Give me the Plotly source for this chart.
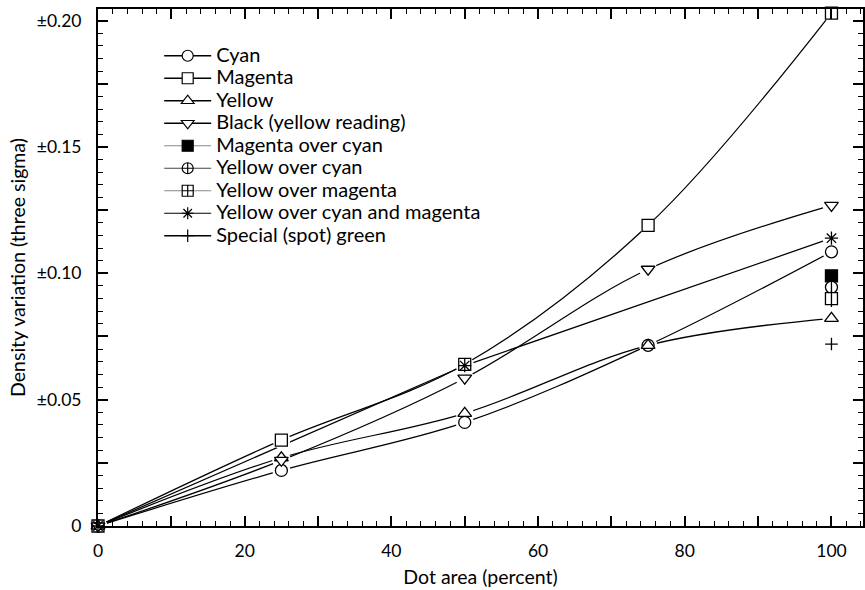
import plotly.graph_objects as go

# Dot area (percent) at which each tint was measured
dot_area = [0, 25, 50, 75, 100]

# Density variation (three sigma) for the process inks
cyan = [0, 0.022, 0.041, 0.0715, 0.1085]
magenta = [0, 0.034, 0.064, 0.119, 0.203]
yellow = [0, 0.027, 0.0446, 0.0715, 0.0822]
black_yellow_reading = [0, 0.026, 0.0585, 0.1016, 0.1269]

# Overprints, measured at a few dot areas only
ycm_area = [0, 50, 100]
yellow_over_cyan_and_magenta = [0, 0.0635, 0.1139]

solid_area = [100]
magenta_over_cyan = [0.099]
yellow_over_cyan = [0.0945]
yellow_over_magenta = [0.090]
spot_green = [0.072]

x_tickvals = [0, 10, 20, 30, 40, 50, 60, 70, 80, 90, 100]
x_ticktext = ["0", "", "20", "", "40", "", "60", "", "80", "", "100"]
y_tickvals = [0, 0.025, 0.05, 0.075, 0.10, 0.125, 0.15, 0.175, 0.20]
y_ticktext = ["0", "", "±0.05", "", "±0.10", "", "±0.15", "", "±0.20"]

FONT = "Lato"
INK = "black"
MS = 12

fig = go.Figure()

# curves first, so the white halos can open a small gap around each marker
curves = [
    (dot_area, cyan, "spline"),
    (dot_area, magenta, "spline"),
    (dot_area, yellow, "spline"),
    (dot_area, black_yellow_reading, "spline"),
    (ycm_area, yellow_over_cyan_and_magenta, "linear"),
]
for xs, ys, shape in curves:
    fig.add_trace(go.Scatter(x=xs, y=ys, mode="lines", showlegend=False,
                             hoverinfo="skip",
                             line=dict(color=INK, width=1.25, shape=shape)))

halo_sets = [
    (dot_area, cyan), (dot_area, magenta), (dot_area, yellow),
    (dot_area, black_yellow_reading), (ycm_area, yellow_over_cyan_and_magenta),
    (solid_area, magenta_over_cyan), (solid_area, yellow_over_cyan),
    (solid_area, yellow_over_magenta), (solid_area, spot_green),
]
for xs, ys in halo_sets:
    fig.add_trace(go.Scatter(x=xs, y=ys, mode="markers", showlegend=False,
                             hoverinfo="skip",
                             marker=dict(symbol="circle", size=MS + 6,
                                         color="white", line=dict(width=0))))

# markers on the data (open line symbols take their stroke from marker.color)
marker_sets = [
    (dot_area, cyan, "circle", "white", MS),
    (dot_area, magenta, "square", "white", MS),
    (dot_area, yellow, "triangle-up", "white", MS),
    (dot_area, black_yellow_reading, "triangle-down", "white", MS),
    (ycm_area, yellow_over_cyan_and_magenta, "asterisk-open", INK, MS - 1),
    (solid_area, magenta_over_cyan, "square", INK, MS),
    (solid_area, yellow_over_cyan, "circle", "white", MS),
    (solid_area, yellow_over_cyan, "line-ns-open", INK, MS),
    (solid_area, yellow_over_magenta, "square", "white", MS),
    (solid_area, yellow_over_magenta, "line-ns-open", INK, MS),
    (solid_area, spot_green, "cross-thin-open", INK, MS - 3),
]
for xs, ys, sym, fill, size in marker_sets:
    fig.add_trace(go.Scatter(x=xs, y=ys, mode="markers", showlegend=False,
                             cliponaxis=False,
                             marker=dict(symbol=sym, size=size, color=fill,
                                         line=dict(color=INK, width=1.3))))

# legend entries
legend_items = [
    ("Cyan", "circle", "white", INK, 1.3, MS - 1),
    ("Magenta", "square", "white", INK, 1.3, MS - 1),
    ("Yellow", "triangle-up", "white", INK, 1.3, MS - 1),
    ("Black (yellow reading)", "triangle-down", "white", INK, 1.3, MS - 1),
    ("Magenta over cyan", "square", INK, "#888888", 1.0, MS - 1),
    ("Yellow over cyan", "circle-cross", "white", "#444444", 1.1, MS - 1),
    ("Yellow over magenta", "square-cross", "white", "#888888", 1.0, MS - 1),
    ("Yellow over cyan and magenta", "asterisk-open", INK, INK, 1.2, MS - 2),
    ("Special (spot) green", "cross-thin-open", INK, INK, 1.6, MS - 3),
]
for name, sym, fill, lc, lw, size in legend_items:
    fig.add_trace(go.Scatter(
        x=[None], y=[None], mode="lines+markers",
        name=f'<span style="font-size:20px">{name}</span>',
        line=dict(color=lc, width=lw),
        marker=dict(symbol=sym, size=size, color=fill,
                    line=dict(color=INK, width=1.2))))

axis_common = dict(
    showline=True, linecolor=INK, linewidth=2, mirror="allticks",
    ticks="inside", tickcolor=INK, tickwidth=1.5, ticklen=10,
    showgrid=False, zeroline=False,
    tickfont=dict(family=FONT, size=17.5, color=INK),
    minor=dict(ticks="inside", ticklen=5, tickwidth=1.2, tickcolor=INK,
               showgrid=False),
)

fig.update_layout(
    width=865, height=590,
    margin=dict(l=98, r=0, t=9, b=64),
    paper_bgcolor="white", plot_bgcolor="white",
    font=dict(family=FONT, color=INK),
    xaxis=dict(range=[0, 104.3], tickmode="array", tickvals=x_tickvals,
               ticktext=x_ticktext, ticklabelstandoff=8,
               title=dict(text="Dot area (percent)", standoff=10,
                          font=dict(family=FONT, size=19.5, color=INK)),
               **axis_common),
    yaxis=dict(range=[0, 0.2046], tickmode="array", tickvals=y_tickvals,
               ticktext=y_ticktext, ticklabelstandoff=11,
               title=dict(text="Density variation (three sigma)", standoff=6,
                          font=dict(family=FONT, size=19.5, color=INK)),
               **axis_common),
    legend=dict(x=0.080, y=0.941, xanchor="left", yanchor="top",
                bgcolor="rgba(0,0,0,0)", borderwidth=0, itemwidth=47,
                font=dict(family=FONT, size=15, color=INK)),
)
fig.update_xaxes(minor_dtick=2)
fig.update_yaxes(minor_dtick=0.005)

fig.write_html("out.html")
